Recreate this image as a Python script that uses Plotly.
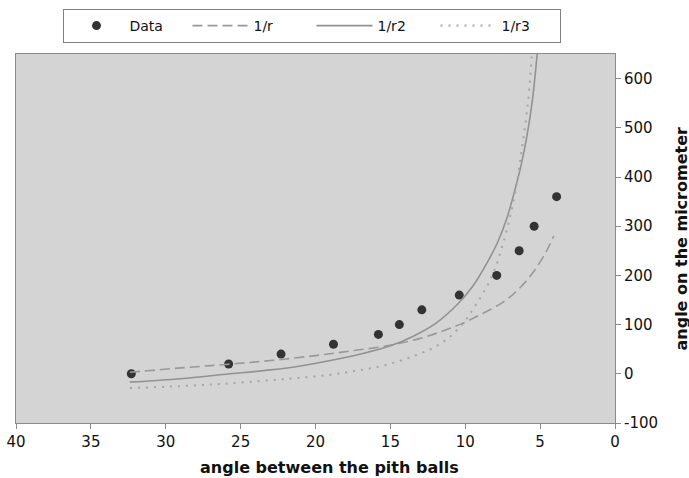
import plotly.graph_objects as go

# Measured data
data_x = [32.3, 25.8, 22.3, 18.8, 15.8, 14.4, 12.9, 10.4, 7.9, 6.4, 5.4, 3.9]
data_y = [0, 20, 40, 60, 80, 100, 130, 160, 200, 250, 300, 360]

# 1/r curve
r1_x = [32.4, 29, 26, 23, 20, 17.5, 15, 13, 11.5, 10.3, 9, 7.5, 6.5, 5.5, 4.6, 4.1]
r1_y = [3, 12, 19, 27, 37, 47, 58, 72, 87, 101, 120, 145, 170, 205, 248, 280]

# 1/r2 curve
r2_x = [32.4, 29, 26, 23, 21, 18.5, 16.5, 15, 13.5, 12, 10.5, 9.5, 8.5, 7.8, 7.2, 6.7, 6.3, 5.9, 5.5, 5.2, 5.1]
r2_y = [-17, -10, -1, 8, 16, 30, 44, 57, 76, 102, 142, 178, 228, 270, 318, 372, 420, 480, 560, 650, 690]

# 1/r3 curve
r3_x = [32.4, 29, 26, 23, 21, 19, 17.5, 16, 14.5, 13.2, 12, 11, 10, 9.3, 8.6, 8.0, 7.5, 7.0, 6.6, 6.3, 6.0, 5.75, 5.55, 5.45]
r3_y = [-29, -25, -20, -13, -8, -2, 5, 13, 25, 39, 55, 76, 108, 140, 175, 215, 262, 320, 380, 440, 504, 570, 650, 690]

x_ticks = [40, 35, 30, 25, 20, 15, 10, 5, 0]
y_ticks = [-100, 0, 100, 200, 300, 400, 500, 600]

x_title = "angle between the pith balls"
y_title = "angle on the micrometer"

FONT = "DejaVu Sans, Verdana, sans-serif"

W, H = 689, 478
L, R, T, B = 16, 74, 54, 55
plot_w = W - L - R
plot_h = H - T - B

fig = go.Figure()
fig.add_trace(go.Scatter(x=data_x, y=data_y, mode="markers", name="Data",
                         marker=dict(color="#333333", size=9)))
fig.add_trace(go.Scatter(x=r1_x, y=r1_y, mode="lines", name="1/r",
                         line=dict(color="#999999", width=1.6, dash="10px,5px", shape="spline")))
fig.add_trace(go.Scatter(x=r2_x, y=r2_y, mode="lines", name="1/r2",
                         line=dict(color="#929292", width=1.6, shape="spline")))
fig.add_trace(go.Scatter(x=r3_x, y=r3_y, mode="lines", name="1/r3",
                         line=dict(color="#a5a5a5", width=2, dash="2px,6px", shape="spline")))

fig.update_layout(
    width=W, height=H,
    margin=dict(l=L, r=R, t=T, b=B, autoexpand=False),
    paper_bgcolor="white",
    plot_bgcolor="#d4d4d4",
    font=dict(family=FONT, size=15, color="#111111"),
    showlegend=True,
    legend=dict(orientation="h", xref="container", yref="container",
                x=311.5 / W, xanchor="center", y=1 - 9 / H, yanchor="top",
                bordercolor="#808080", borderwidth=1, bgcolor="white",
                font=dict(size=14), entrywidth=53, itemwidth=56,
                tracegroupgap=0),
    annotations=[
        dict(text="<b>" + x_title + "</b>", xref="paper", yref="paper",
             x=(329 - L) / plot_w, y=-(467 - (T + plot_h)) / plot_h,
             xanchor="center", yanchor="middle", showarrow=False,
             font=dict(size=16, color="#111111")),
        dict(text="<b>" + y_title + "</b>", xref="paper", yref="paper",
             x=(681 - L) / plot_w, y=0.5, textangle=-90,
             xanchor="center", yanchor="middle", showarrow=False,
             font=dict(size=16, color="#111111")),
    ],
)
fig.update_xaxes(range=[40, 0], tickvals=x_ticks, ticktext=[str(v) for v in x_ticks],
                 showgrid=False, zeroline=False, automargin=False,
                 showline=True, linecolor="#8a8a8a", linewidth=1, mirror=True,
                 ticks="outside", ticklen=5, tickcolor="#8a8a8a",
                 tickfont=dict(size=15))
fig.update_yaxes(range=[-100, 650], tickvals=y_ticks, ticktext=[str(v) for v in y_ticks],
                 side="right", showgrid=False, zeroline=False, automargin=False,
                 showline=True, linecolor="#8a8a8a", linewidth=1, mirror=True,
                 ticks="outside", ticklen=5, tickcolor="#8a8a8a",
                 tickfont=dict(size=15))

fig.write_html("out.html", config={"displayModeBar": False},
               post_script="document.body.style.margin='0';document.body.style.overflow='hidden';")
